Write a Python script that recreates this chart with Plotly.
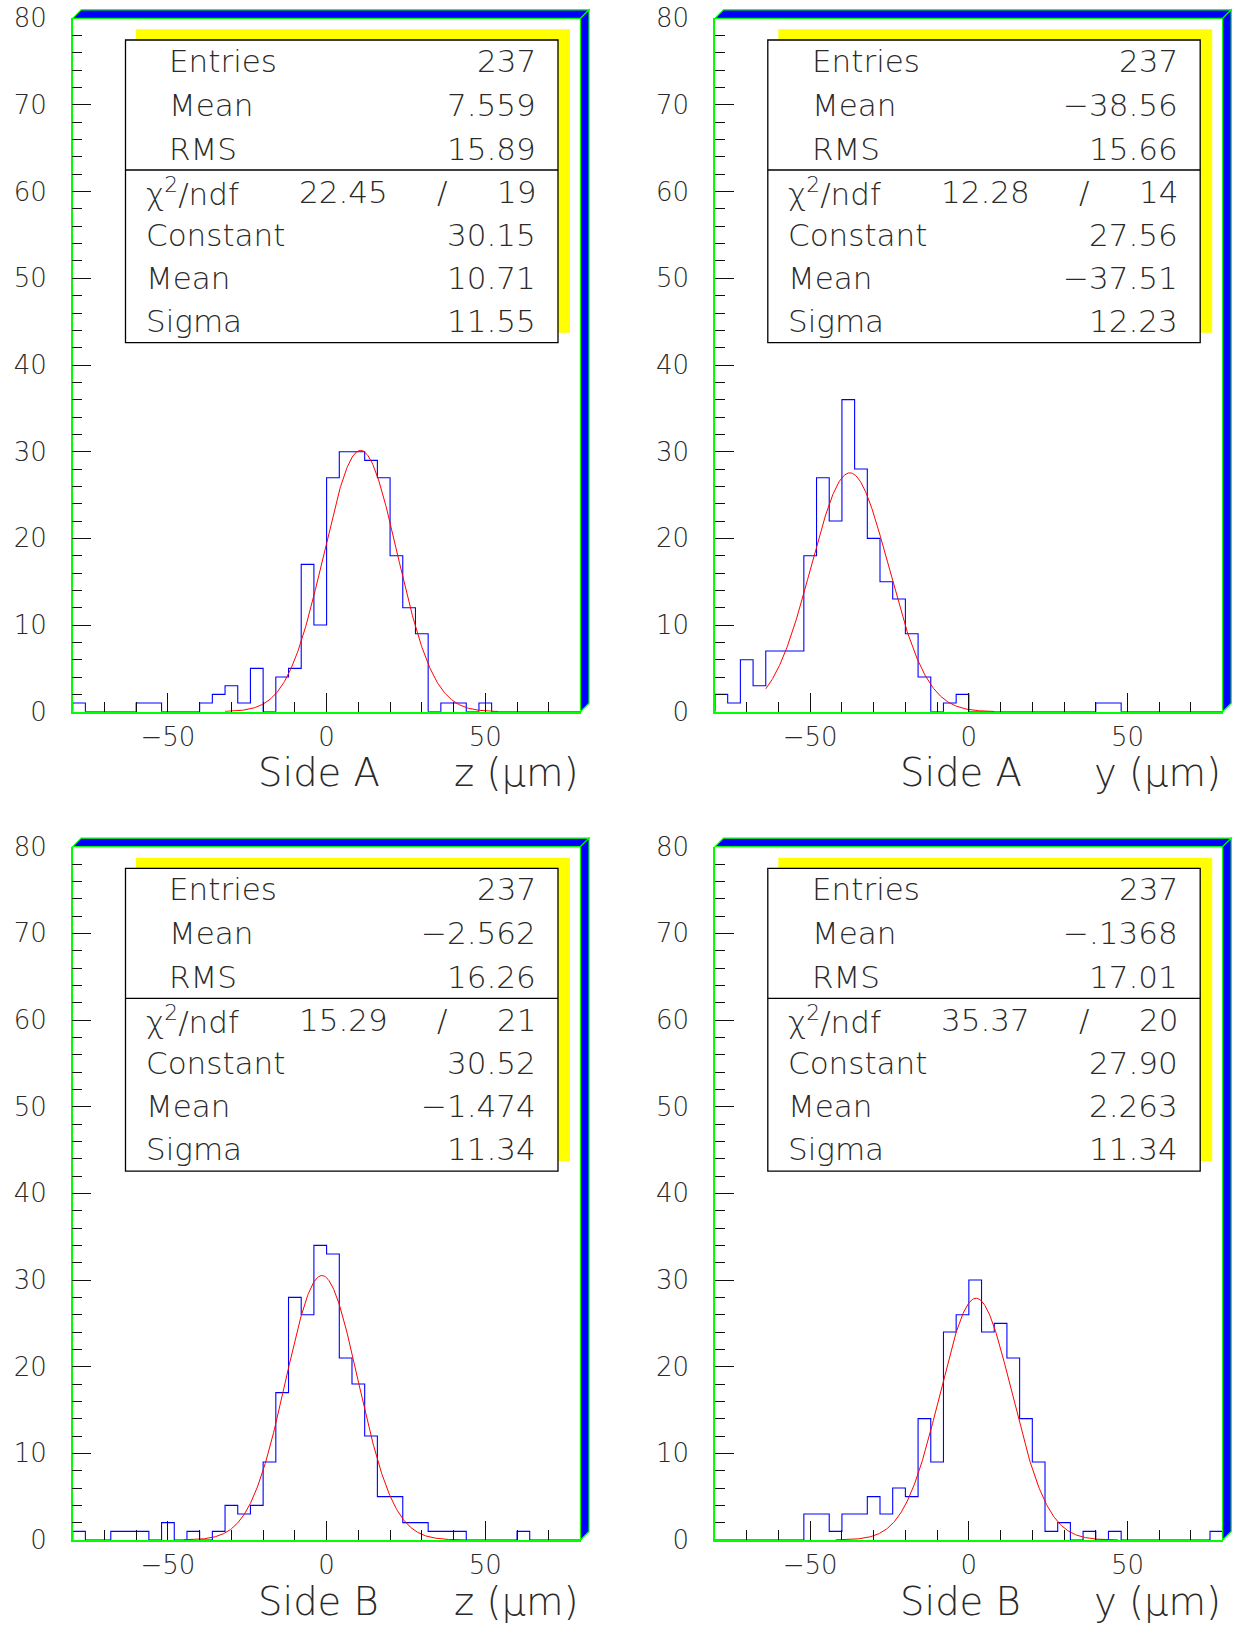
import numpy as np
import plotly.graph_objects as go

W, H = 1234, 1626

# ---------------- data ----------------
bin_lo = np.arange(-80, 80, 4)          # 40 bins of width 4 from -80 to 80

counts_A_z = [1, 0, 0, 0, 0, 1, 1, 0, 0, 0,
              1, 2, 3, 1, 5, 0, 4, 5, 17, 10,
              27, 30, 30, 29, 27, 18, 12, 9, 0, 1,
              1, 0, 1, 0, 0, 0, 0, 0, 0, 0]
counts_A_y = [2, 1, 6, 3, 7, 7, 7, 18, 27, 22,
              36, 28, 20, 15, 13, 9, 4, 0, 1, 2,
              0, 0, 0, 0, 0, 0, 0, 0, 0, 0,
              1, 1, 0, 0, 0, 0, 0, 0, 0, 0]
counts_B_z = [1, 0, 0, 1, 1, 1, 0, 2, 0, 1,
              0, 1, 4, 3, 4, 9, 17, 28, 26, 34,
              33, 21, 18, 12, 5, 5, 2, 2, 1, 1,
              1, 0, 0, 0, 0, 1, 0, 0, 0, 0]
counts_B_y = [0, 0, 0, 0, 0, 0, 0, 3, 3, 1,
              3, 3, 5, 3, 6, 5, 14, 9, 24, 26,
              30, 24, 25, 21, 14, 9, 1, 2, 0, 1,
              0, 1, 0, 0, 0, 0, 0, 0, 0, 1]

# stats box values
entries = ["237", "237", "237", "237"]
hist_mean = ["7.559", "\u221238.56", "\u22122.562", "\u2212.1368"]
hist_rms = ["15.89", "15.66", "16.26", "17.01"]
chi2 = ["22.45", "12.28", "15.29", "35.37"]
ndf = ["19", "14", "21", "20"]
fit_const = [30.15, 27.56, 30.52, 27.90]
fit_mean = [10.71, -37.51, -1.474, 2.263]
fit_sigma = [11.55, 12.23, 11.34, 11.34]
fit_const_txt = ["30.15", "27.56", "30.52", "27.90"]
fit_mean_txt = ["10.71", "\u221237.51", "\u22121.474", "2.263"]
fit_sigma_txt = ["11.55", "12.23", "11.34", "11.34"]
fit_lo = [-32, -64, -45, -42]
fit_hi = [54, 8, 44, 47]

side_labels = ["Side A", "Side A", "Side B", "Side B"]
var_labels = ["z (\u03bcm)", "y (\u03bcm)", "z (\u03bcm)", "y (\u03bcm)"]

all_counts = [counts_A_z, counts_A_y, counts_B_z, counts_B_y]

# ---------------- layout geometry (pixels) ----------------
PX = [(72.7, 580.5), (715.0, 1222.7)]
PY = [(18.3, 711.7), (846.7, 1540.0)]

BLUE = "#0000ff"
GREEN = "#00ff00"
YELLOW = "#ffff00"
RED = "#ff0000"
FONT = "DejaVu Sans ExtraLight, DejaVu Sans"
TXT = "#2a2a2a"


def xp(x):
    return x / W


def yp(y):
    return 1 - y / H


fig = go.Figure()
shapes = []
annotations = []
layout = dict(
    width=W, height=H, margin=dict(l=0, r=0, t=0, b=0, autoexpand=False),
    paper_bgcolor="white", plot_bgcolor="white", showlegend=False,
)

for i in range(4):
    col = i % 2
    row = i // 2
    L, R = PX[col]
    T, B = PY[row]
    ax = "" if i == 0 else str(i + 1)
    xa, ya = "x" + ax, "y" + ax

    counts = all_counts[i]
    xs = [-80] + list(bin_lo) + [80]
    ys = [0] + list(counts) + [0]
    fig.add_trace(go.Scatter(x=xs, y=ys, mode="lines", line=dict(color=BLUE, width=1.1, shape="hv"),
                             xaxis=xa, yaxis=ya, hoverinfo="skip"))
    fx = np.linspace(fit_lo[i], fit_hi[i], 400)
    fy = fit_const[i] * np.exp(-0.5 * ((fx - fit_mean[i]) / fit_sigma[i]) ** 2)
    fig.add_trace(go.Scatter(x=fx, y=fy, mode="lines", line=dict(color=RED, width=1.0),
                             xaxis=xa, yaxis=ya, hoverinfo="skip"))

    tickfont = dict(family=FONT, size=26, color=TXT, weight=200)
    layout["xaxis" + ax] = dict(
        domain=[xp(L), xp(R)], anchor=ya, range=[-80, 80], automargin=False,
        showline=True, linecolor=GREEN, linewidth=1.5, mirror=False,
        showgrid=False, zeroline=False,
        ticks="inside", ticklen=19, tickwidth=1, tickcolor="#111111",
        tick0=0, dtick=50, tickfont=tickfont, ticklabelstandoff=1,
        minor=dict(ticks="inside", ticklen=10, tickwidth=1, tickcolor="#111111", tick0=0, dtick=10, showgrid=False),
    )
    layout["yaxis" + ax] = dict(
        domain=[yp(B), yp(T)], anchor=xa, range=[0, 80], automargin=False,
        showline=True, linecolor=GREEN, linewidth=1.5, mirror=False,
        showgrid=False, zeroline=False,
        ticks="inside", ticklen=19, tickwidth=1, tickcolor="#111111",
        tick0=0, dtick=10, tickfont=tickfont, ticklabelstandoff=19,
        minor=dict(ticks="inside", ticklen=10, tickwidth=1, tickcolor="#111111", tick0=0, dtick=2, showgrid=False),
    )

    d = 8.5
    # 3D frame: top band and right band
    top_path = (f"M {xp(L)},{yp(T)} L {xp(L + d)},{yp(T - d)} L {xp(R + d)},{yp(T - d)} "
                f"L {xp(R)},{yp(T)} Z")
    right_path = (f"M {xp(R)},{yp(T)} L {xp(R + d)},{yp(T - d)} L {xp(R + d)},{yp(B - d)} "
                  f"L {xp(R)},{yp(B)} Z")
    for p in (top_path, right_path):
        shapes.append(dict(type="path", path=p, xref="paper", yref="paper",
                           fillcolor=BLUE, line=dict(color=GREEN, width=1.2), layer="above"))

    # stats box: yellow shadow, white box, separator
    shapes.append(dict(type="rect", xref="paper", yref="paper",
                       x0=xp(L + 63.3), x1=xp(R - 10.5), y0=yp(T + 314.4), y1=yp(T + 11),
                       fillcolor=YELLOW, line=dict(width=0), layer="above"))
    shapes.append(dict(type="rect", xref="paper", yref="paper",
                       x0=xp(L + 52.8), x1=xp(R - 22.5), y0=yp(T + 324.4), y1=yp(T + 21.7),
                       fillcolor="white", line=dict(color="black", width=1.3), layer="above"))
    shapes.append(dict(type="line", xref="paper", yref="paper",
                       x0=xp(L + 52.8), x1=xp(R - 22.5), y0=yp(T + 151.7), y1=yp(T + 151.7),
                       line=dict(color="black", width=1.3), layer="above"))

    sfont = dict(family=FONT, size=31, color=TXT, weight=200)
    rows_y = [42.7, 86.7, 130.2, 173.7, 216.7, 259.7, 302.7]
    left_labels = [("Entries", L + 94.5), ("Mean", L + 94.5), ("RMS", L + 94.5),
                   ("\u03c7<sup>2</sup>/ndf", L + 71.5), ("Constant", L + 71.5),
                   ("Mean", L + 71.5), ("Sigma", L + 71.5)]
    right_vals = [entries[i], hist_mean[i], hist_rms[i], ndf[i],
                  fit_const_txt[i], fit_mean_txt[i], fit_sigma_txt[i]]
    for (lab, lx), val, ry in zip(left_labels, right_vals, rows_y):
        annotations.append(dict(text=lab, x=xp(lx), y=yp(T + ry), xref="paper", yref="paper",
                                xanchor="left", yanchor="middle", showarrow=False, font=sfont))
        annotations.append(dict(text=val, x=xp(R - 42.5), y=yp(T + ry), xref="paper", yref="paper",
                                xanchor="right", yanchor="middle", showarrow=False, font=sfont))
    annotations.append(dict(text=chi2[i], x=xp(L + 271), y=yp(T + rows_y[3]), xref="paper", yref="paper",
                            xanchor="center", yanchor="middle", showarrow=False, font=sfont))
    annotations.append(dict(text="/", x=xp(L + 369), y=yp(T + rows_y[3]), xref="paper", yref="paper",
                            xanchor="center", yanchor="middle", showarrow=False, font=sfont))

    # axis title pieces
    tfont = dict(family=FONT, size=38.5, color=TXT, weight=200)
    annotations.append(dict(text=side_labels[i], x=xp(L + 183), y=yp(B + 61), xref="paper", yref="paper",
                            xanchor="left", yanchor="middle", showarrow=False, font=tfont))
    annotations.append(dict(text=var_labels[i], x=xp(R + 0.5), y=yp(B + 61), xref="paper", yref="paper",
                            xanchor="right", yanchor="middle", showarrow=False, font=tfont))

layout["shapes"] = shapes
layout["annotations"] = annotations
fig.update_layout(**layout)
fig.write_html("out.html")
